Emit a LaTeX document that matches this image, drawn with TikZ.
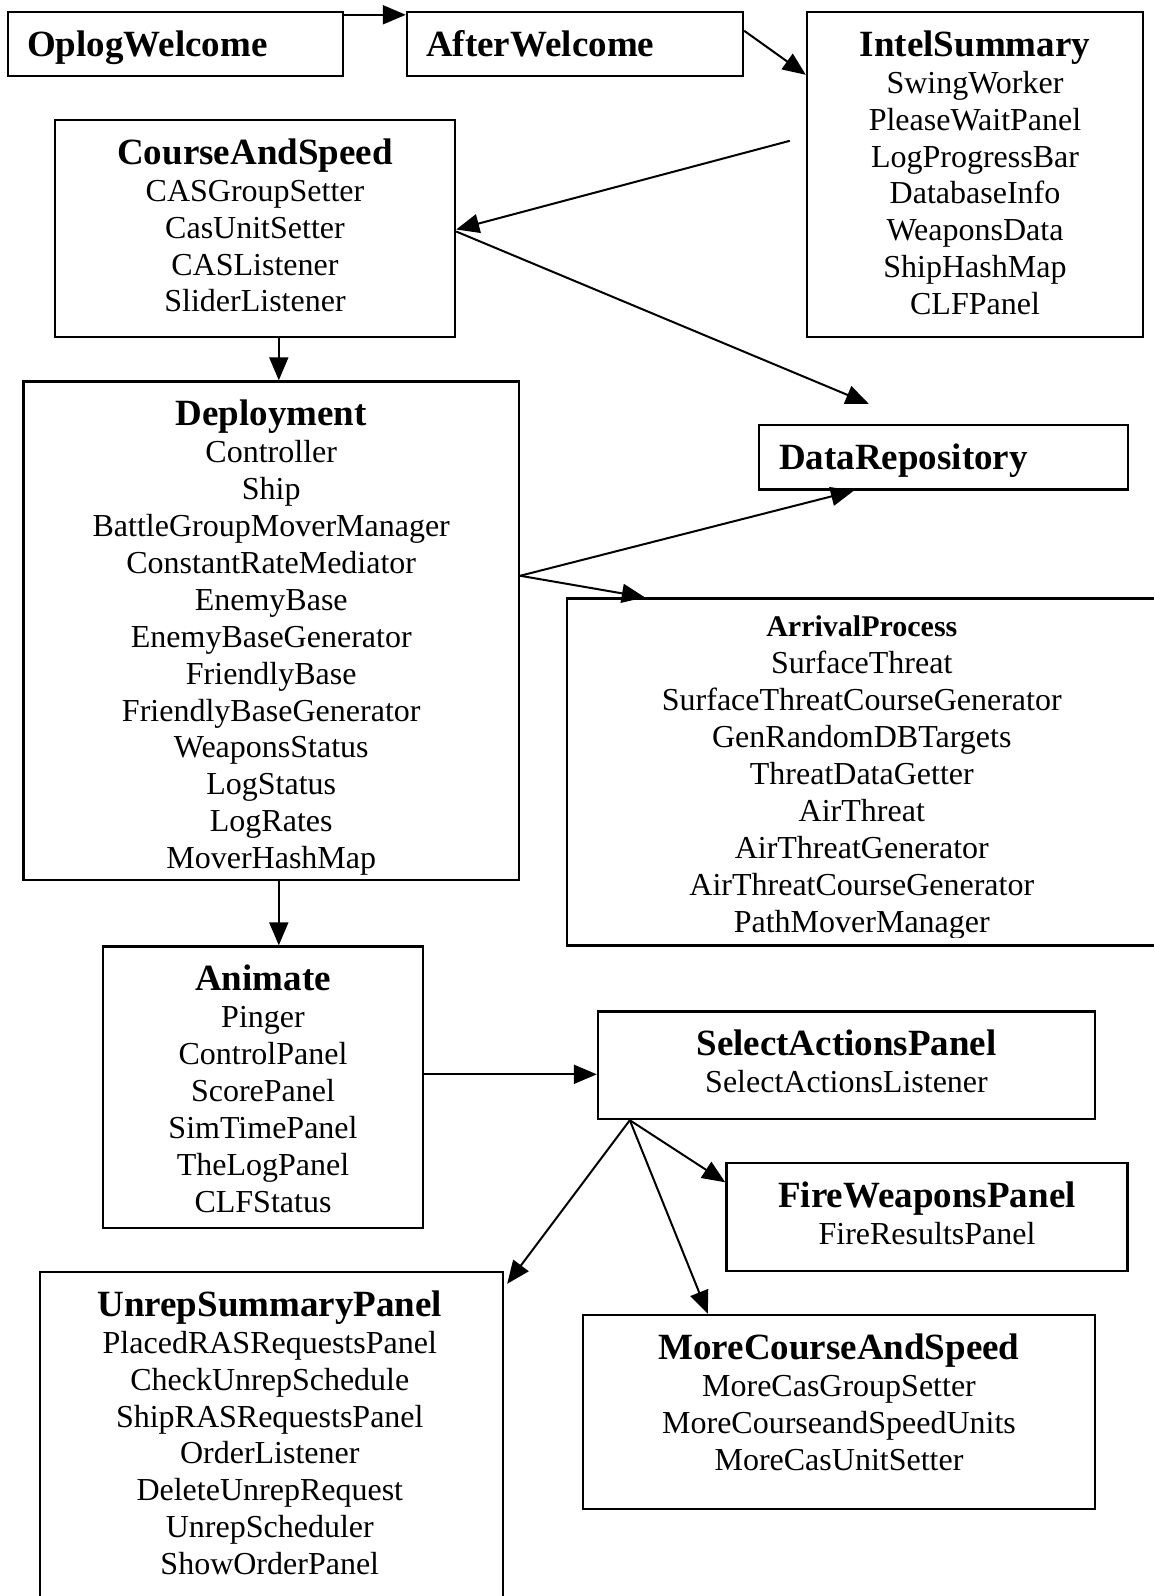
\documentclass[tikz,border=0pt]{standalone}
\usepackage{fontspec}
\setmainfont{Liberation Serif}
\usetikzlibrary{arrows.meta,calc,fit}
\newcommand\itemsz{\fontsize{16}{18.45}\selectfont}
\newcommand\ttl[1]{\textbf{\fontsize{18.5}{18.45}\selectfont #1}}
\newcommand\ttlsm[1]{\textbf{\fontsize{15}{18.45}\selectfont #1}}
\newcommand\stk[1]{\begin{tabular}[t]{@{}c@{}}#1\end{tabular}}
\begin{document}
\begin{tikzpicture}[x=0.5pt,y=-0.5pt,
  box/.style={draw, line width=1.2pt, inner sep=0pt},
  lbl/.style={inner sep=0pt, font=\itemsz, anchor=base},
  conn/.style={-{Triangle[length=11.5pt,width=9.5pt]}, line width=1pt}]
\useasboundingbox (0,0) rectangle (1154,1596);
\clip (0,0) rectangle (1154,1596);

% boxes
\node[box, fit={(8,12) (343,76)}] (oplog) {};
\node[box, fit={(407,12) (743,76)}] (after) {};
\node[box, fit={(807,12) (1143,337)}] (intel) {};
\node[box, fit={(55,120) (455,337)}] (course) {};
\node[box, fit={(759,425) (1128,489.5)}] (datarepo) {};
\node[box, fit={(23.5,381.5) (519,880)}] (deploy) {};
\node[box, fit={(567,598.5) (1162,945.5)}] (arrival) {};
\node[box, fit={(103,946.5) (423,1228)}] (animate) {};
\node[box, fit={(598,1011.5) (1095,1119)}] (select) {};
\node[box, fit={(726.5,1163) (1127.5,1271)}] (fire) {};
\node[box, fit={(583,1315) (1095,1509)}] (more) {};
\node[box, fit={(40,1272) (503,1640)}] (unrep) {};

% texts
\node[lbl, anchor=base west] (oplogT) at ($(oplog.north west)+(20,45.5)$) {\ttl{OplogWelcome}};
\node[lbl, anchor=base west] (afterT) at ($(after.north west)+(20,45.5)$) {\ttl{AfterWelcome}};
\node[lbl, anchor=base west] (datarepoT) at ($(datarepo.north west)+(21,45.5)$) {\ttl{DataRepository}};
\node[lbl] (intelT) at ($(intel.north)+(0,45.5)$) {\stk{\ttl{IntelSummary}\\ SwingWorker\\ PleaseWaitPanel\\ LogProgressBar\\ DatabaseInfo\\ WeaponsData\\ ShipHashMap\\ CLFPanel}};
\node[lbl] (courseT) at ($(course.north)+(0,45.5)$) {\stk{\ttl{CourseAndSpeed}\\ CASGroupSetter\\ CasUnitSetter\\ CASListener\\ SliderListener}};
\begin{scope}
\clip (deploy.north west) rectangle ($(deploy.south east)+(0,-6.7)$);
\node[lbl] (deployT) at ($(deploy.north)+(0,45.5)$) {\stk{\ttl{Deployment}\\ Controller\\ Ship\\ BattleGroupMoverManager\\ ConstantRateMediator\\ EnemyBase\\ EnemyBaseGenerator\\ FriendlyBase\\ FriendlyBaseGenerator\\ WeaponsStatus\\ LogStatus\\ LogRates\\ MoverHashMap}};
\end{scope}
\begin{scope}
\clip (arrival.north west) rectangle ($(arrival.south east)+(0,-9)$);
\node[lbl] (arrivalT) at ($(arrival.north west)+(296,39.5)$) {\stk{\ttlsm{ArrivalProcess}\\ SurfaceThreat\\ SurfaceThreatCourseGenerator\\ GenRandomDBTargets\\ ThreatDataGetter\\ AirThreat\\ AirThreatGenerator\\ AirThreatCourseGenerator\\ PathMoverManager}};
\end{scope}
\node[lbl] (animateT) at ($(animate.north)+(0,45.5)$) {\stk{\ttl{Animate}\\ Pinger\\ ControlPanel\\ ScorePanel\\ SimTimePanel\\ TheLogPanel\\ CLFStatus}};
\node[lbl] (selectT) at ($(select.north)+(0,45.5)$) {\stk{\ttl{SelectActionsPanel}\\ SelectActionsListener}};
\node[lbl] (fireT) at ($(fire.north)+(0,45.5)$) {\stk{\ttl{FireWeaponsPanel}\\ FireResultsPanel}};
\node[lbl] (moreT) at ($(more.north)+(0,45.5)$) {\stk{\ttl{MoreCourseAndSpeed}\\ MoreCasGroupSetter\\ MoreCourseandSpeedUnits\\ MoreCasUnitSetter}};
\node[lbl] (unrepT) at ($(unrep.north west)+(231,45.5)$) {\stk{\ttl{UnrepSummaryPanel}\\ PlacedRASRequestsPanel\\ CheckUnrepSchedule\\ ShipRASRequestsPanel\\ OrderListener\\ DeleteUnrepRequest\\ UnrepScheduler\\ ShowOrderPanel}};

% connectors
\draw[conn] ($(oplog.north east)+(0,4)$) -- ($(after.north west)+(0,4)$);
\draw[conn] ($(after.north east)+(0,20)$) -- ($(intel.north west)+(0,64)$);
\coordinate (c0) at ($(intel.north west)+(-16,130)$);
\draw[conn] (c0) -- ($(course.east)+(0,1)$);
\draw[conn] ($(course.east)+(0,3)$) -- ($(datarepo.north west)+(111,-20)$);
\coordinate (c5) at ($(deploy.east)+(0,-55)$);
\draw[conn] (c5) -- ($(datarepo.south west)+(96,0)$);
\draw[conn] (c5) -- ($(arrival.north west)+(79,0)$);
\coordinate (c1) at ($(course.south west)+(225,0)$);
\draw[conn] (c1) -- (c1 |- deploy.north);
\coordinate (c2) at ($(deploy.south west)+(256.5,0)$);
\draw[conn] (c2) -- (c2 |- animate.north);
\coordinate (c3) at ($(animate.north east)+(0,129)$);
\draw[conn] (c3) -- (c3 -| select.west);
\coordinate (c4) at ($(select.south west)+(33,0)$);
\draw[conn] (c4) -- ($(fire.north west)+(0,20.5)$);
\draw[conn] (c4) -- ($(more.north west)+(126,0)$);
\draw[conn] (c4) -- ($(unrep.north east)+(3,13)$);
\end{tikzpicture}
\end{document}
